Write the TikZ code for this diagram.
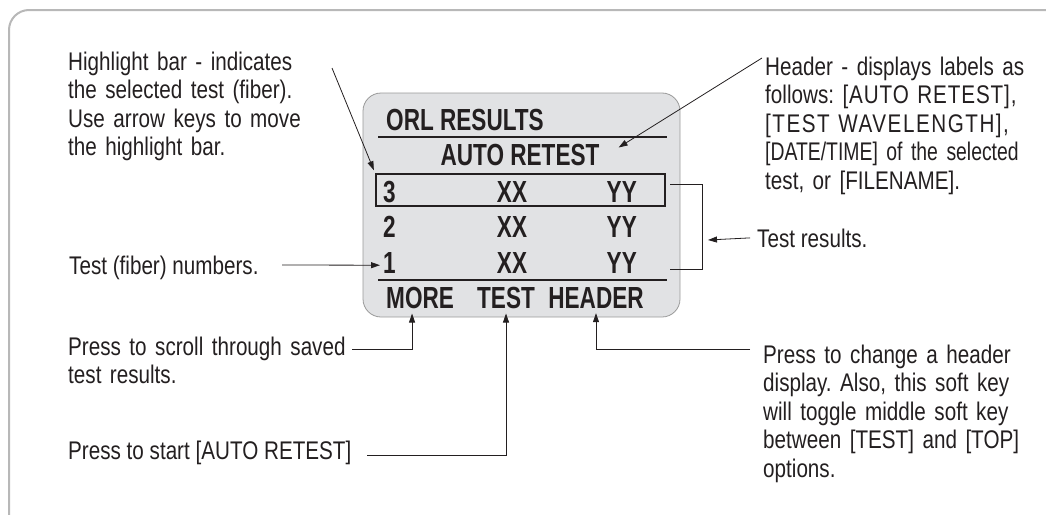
\documentclass[tikz,border=0pt]{standalone}
\usepackage{fontspec}
\setmainfont{Liberation Sans}[FakeStretch=0.81]
\newfontfamily\scrfont{Liberation Sans}[FakeStretch=0.74]
\usetikzlibrary{arrows.meta}
\definecolor{framegray}{HTML}{B8B8B8}
\definecolor{screenfill}{HTML}{E1E2E4}
\definecolor{screenedge}{HTML}{9A9A9A}
\definecolor{ink}{HTML}{231F20}
\newcommand\jline[1]{\makebox[\linewidth][s]{#1}\\}
\frenchspacing
\tikzset{
  body/.style={font=\fontsize{25.5}{28.5}\selectfont\frenchspacing, text=ink, inner sep=0pt, anchor=base west},
  para/.style={body, align=left},
  scr/.style={font=\scrfont\bfseries\fontsize{30.5}{31}\selectfont, text=ink, inner sep=0pt},
  conn/.style={draw=ink, line width=0.8pt},
  arr/.style={conn, -{Triangle[length=9pt,width=6pt]}},
  rule/.style={draw=ink, line width=1.5pt},
}
\begin{document}
\begin{tikzpicture}[x=1pt,y=-1pt]
\useasboundingbox (0,0) rectangle (1046,514);
\clip (0,0) rectangle (1046,514);
% outer frame
\draw[framegray, line width=2pt, rounded corners=20pt] (9,10) rectangle (1090,545);

% screen
\node[draw=screenedge, fill=screenfill, line width=0.8pt, rounded corners=18pt,
      minimum width=317pt, minimum height=224pt, inner sep=0pt] (screen) at (521.5,205) {};
\draw[rule] (378,137) -- (667,137);
\draw[rule] (378,280) -- (667,280);
\node[scr, anchor=base west] (orl) at (386,130) {ORL RESULTS};
\node[scr, anchor=base] (auto) at (520,165) {AUTO RETEST};
\node[draw=ink, line width=2pt, minimum width=289pt, minimum height=32pt, inner sep=0pt] (hbar) at (520.5,190) {};
\node[scr, anchor=base west] (n3) at (383,202) {3};
\node[scr, anchor=base] (x3) at (512,202) {XX};
\node[scr, anchor=base east] (y3) at (637,202) {YY};
\node[scr, anchor=base west] (n2) at (383,237) {2};
\node[scr, anchor=base] (x2) at (512,237) {XX};
\node[scr, anchor=base east] (y2) at (637,237) {YY};
\node[scr, anchor=base west] (n1) at (383,273) {1};
\node[scr, anchor=base] (x1) at (512,273) {XX};
\node[scr, anchor=base east] (y1) at (637,273) {YY};
\node[scr, anchor=base west] (more) at (386,308) {MORE};
\node[scr, anchor=base] (test) at (506,308) {TEST};
\node[scr, anchor=base] (header) at (596,308) {HEADER};

% annotations
\node[para, text width=248pt] (hl) at (68,70)
  {\jline{Highlight bar - indicates}\jline{the selected test (fiber).}\jline{Use arrow keys to move}the highlight bar.};
\node[para, text width=247pt] (hdr) at (765,75)
  {\jline{Header - displays labels as}\jline{follows: {\addfontfeature{LetterSpace=3.5}[AUTO RETEST],}}\jline{\addfontfeature{LetterSpace=6}[TEST WAVELENGTH],}\jline{\addfontfeature{FakeStretch=0.76}[DATE/TIME] of the selected}test, or [FILENAME].};
\node[body] (tr) at (757,247) {Test results.};
\node[body] (tn) at (69,274) {Test (fiber) numbers.};
\node[para, text width=280pt] (ps) at (68,355) {Press to scroll through saved\\test results.};
\node[body] (pst) at (68,459) {Press to start [AUTO RETEST]};
\node[para, text width=250pt] (pch) at (763,363)
  {\jline{Press to change a header}\jline{display. Also, this soft key}\jline{will toggle middle soft key}\jline{between [TEST] and [TOP]}options.};

% connector ends
\coordinate (c-hl) at (332,68);
\coordinate (c-hdr) at (762,58);
\coordinate (c-tn) at (282,265);
\coordinate (c-scroll) at (352,349);
\coordinate (c-start) at (367,455);
\coordinate (c-change) at (750,349);
\coordinate (brk) at (702,240);

% connectors
\draw[arr, shorten >=3pt] (c-hl) -- (hbar.north west);
\draw[arr] (c-hdr) -- ([shift={(19pt,7pt)}]auto.east);
\draw[arr] (c-tn) -- ([xshift=-3pt,yshift=8pt]n1.south west);
\draw[conn] (670,184) -| (brk) |- (670,269);
\draw[arr] ([xshift=-7pt]tr.west) -- ([xshift=6pt]brk);
\draw[arr] (c-scroll) -| ([xshift=-8pt,yshift=-5pt]more.south);
\draw[arr] (c-start) -| ([yshift=-5pt]test.south);
\draw[arr] (c-change) -| ([yshift=-5pt]header.south);
\end{tikzpicture}
\end{document}
